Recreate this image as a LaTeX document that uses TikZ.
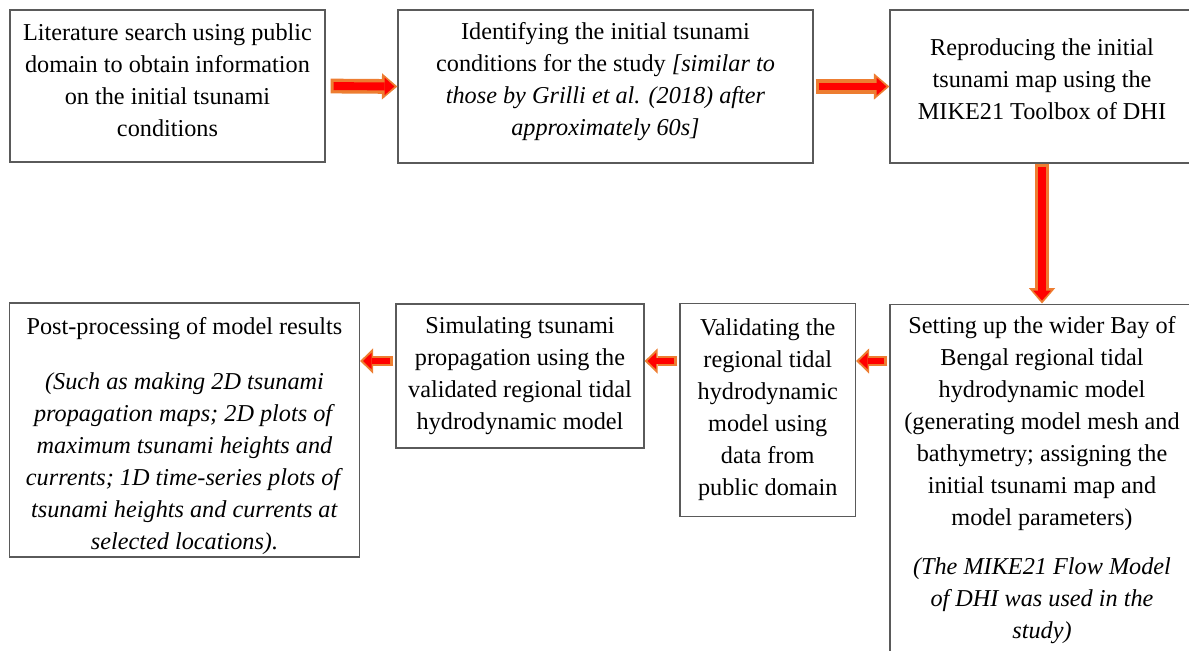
\documentclass[tikz,border=0pt]{standalone}
\usepackage{fontspec}
\setmainfont{Liberation Serif}
\usepackage{xcolor}
\usetikzlibrary{arrows.meta}
\definecolor{arroworange}{HTML}{ED7D31}
\definecolor{boxgray}{HTML}{5A5A5A}
\newcommand{\padbelow}[1]{\rule[-#1]{0pt}{#1}}
\newcommand{\padabove}[1]{\rule{0pt}{#1}}

\begin{document}
\begin{tikzpicture}[x=0.02cm, y=-0.02cm,
    stage/.style={draw=boxgray, line width=0.75pt, align=center, inner sep=0pt,
                  font=\fontsize{13.8}{18.2}\selectfont},
    bigarrow/.style={preaction={draw=arroworange, line width=8.4pt, shorten <=#1, shorten >=0pt,
                     -{Triangle[width=15pt,length=8.8pt,line width=0pt]}},
                     draw=red, line width=4.5pt, shorten <=#1+1.8pt, shorten >=1.7pt,
                     -{Triangle[width=10pt,length=5.6pt,line width=0pt]}},
    smallarrow/.style={preaction={draw=arroworange, line width=5.9pt, shorten <=#1, shorten >=0pt,
                     -{Triangle[width=14.4pt,length=7.4pt,line width=0pt]}},
                     draw=red, line width=2.9pt, shorten <=#1+1.7pt, shorten >=1.7pt,
                     -{Triangle[width=9.4pt,length=4.8pt,line width=0pt]}}]
    \useasboundingbox (0,0) rectangle (1189,650);
    \clip (0,0) rectangle (1189,650);
    \node[stage, minimum width=6.3cm, minimum height=3.04cm] (search) at (167.5,86) {Literature search using public\\ domain to obtain information\\ on the initial tsunami\\ conditions\padbelow{6.8pt}};
    \node[stage, minimum width=8.3cm, minimum height=3.06cm] (identify) at (605.5,86.5) {Identifying the initial tsunami\\ conditions for the study \textit{[similar to}\\ \textit{those by Grilli et al. (2018) after}\\ \textit{approximately 60s]}\padbelow{9pt}};
    \node[stage, minimum width=6.08cm, minimum height=3.06cm] (reproduce) at (1042,86.5) {Reproducing the initial\\ tsunami map using the\\ MIKE21 Toolbox of DHI\padbelow{8pt}};
    \node[stage, minimum width=6.08cm, inner ysep=0.24cm, anchor=north] (setup) at (1042,303.5) {Setting up the wider Bay of\\ Bengal regional tidal\\ hydrodynamic model\\ (generating model mesh and\\ bathymetry; assigning the\\ initial tsunami map and\\ model parameters)\\[10pt] \textit{(The MIKE21 Flow Model}\\ \textit{of DHI was used in the}\\ \textit{study)}};
    \node[stage, minimum width=3.51cm, minimum height=4.26cm] (validate) at (767.75,410) {Validating the\\ regional tidal\\ hydrodynamic\\ model using\\ data from\\ public domain};
    \node[stage, minimum width=4.96cm, minimum height=2.88cm] (simulate) at (520,376) {Simulating tsunami\\ propagation using the\\ validated regional tidal\\ hydrodynamic model};
    \node[stage, minimum width=7cm, minimum height=5.08cm] (post) at (184.5,430) {\padabove{16.8pt}Post-processing of model results\\[13pt] \textit{(Such as making 2D tsunami}\\ \textit{propagation maps; 2D plots of}\\ \textit{maximum tsunami heights and}\\ \textit{currents; 1D time-series plots of}\\ \textit{tsunami heights and currents at}\\ \textit{selected locations).}};
    \coordinate (lowrow) at (0,361);
    \draw[bigarrow=2.8pt] (search.east) -- (identify.west);
    \draw[bigarrow=1.2pt] (identify.east) -- (reproduce.west);
    \draw[bigarrow=0pt] (reproduce.south) -- (setup.north);
    \draw[smallarrow=1.2pt] (setup.west |- lowrow) -- (validate.east |- lowrow);
    \draw[smallarrow=1.2pt] (validate.west |- lowrow) -- (simulate.east |- lowrow);
    \draw[smallarrow=1.2pt] (simulate.west |- lowrow) -- (post.east |- lowrow);
\end{tikzpicture}
\end{document}
